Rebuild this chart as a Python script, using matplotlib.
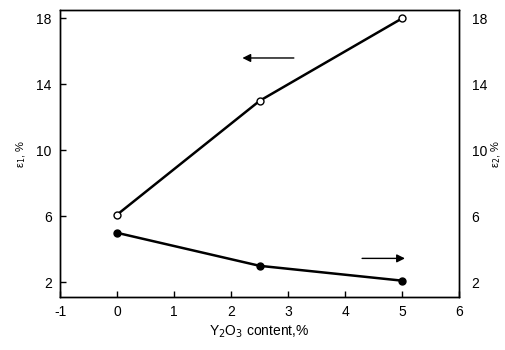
"""Elongation vs Y2O3 content
Two series on twin y axes, arrows point to the axis each curve belongs to
"""

import matplotlib.pyplot as plt

plt.rcParams['font.family'] = ['Liberation Sans', 'DejaVu Sans']
plt.rcParams['font.size'] = 10
plt.rcParams['axes.unicode_minus'] = False

# Y2O3 content, %
content = [0, 2.5, 5]
# left axis series (open circles)
eps1 = [6.1, 13.0, 18.0]
# right axis series (filled circles)
eps2 = [5.0, 3.0, 2.1]

x_ticks = [-1, 0, 1, 2, 3, 4, 5, 6]
y_ticks = [2, 6, 10, 14, 18]

fig = plt.figure(figsize=(5.05, 3.5), dpi=100)
ax = fig.add_axes([0.119, 0.151, 0.79, 0.82])
ax2 = ax.twinx()

ax.plot(content, eps1, color='black', lw=1.8, marker='o', ms=5,
        mfc='white', mec='black', mew=1.0, zorder=3)
ax2.plot(content, eps2, color='black', lw=1.8, marker='o', ms=5,
         mfc='black', mec='black', zorder=3)

for a in (ax, ax2):
    a.set_xlim(-1, 6)
    a.set_ylim(1.1, 18.5)
    a.set_yticks(y_ticks)
    for s in a.spines.values():
        s.set_linewidth(1.0)

ax.set_xticks(x_ticks)
ax.tick_params(axis='both', direction='in', length=4, width=1.0, pad=6)
ax2.tick_params(axis='y', direction='in', length=0, pad=9)

ax.set_xlabel('Y$_2$O$_3$ content,%', labelpad=3)
ax.set_ylabel('ε$_1$, %', fontsize=8, labelpad=6)
ax2.set_ylabel('ε$_2$, %', fontsize=8, rotation=90, labelpad=2)

# arrows showing which axis each curve reads against
ax.annotate('', xy=(2.15, 15.6), xytext=(3.15, 15.6),
            arrowprops=dict(arrowstyle='-|>', color='black', lw=1.0,
                            mutation_scale=12))
ax2.annotate('', xy=(5.1, 3.45), xytext=(4.25, 3.45),
             arrowprops=dict(arrowstyle='-|>', color='black', lw=1.0,
                             mutation_scale=12))

plt.savefig('out.png', dpi=100)
